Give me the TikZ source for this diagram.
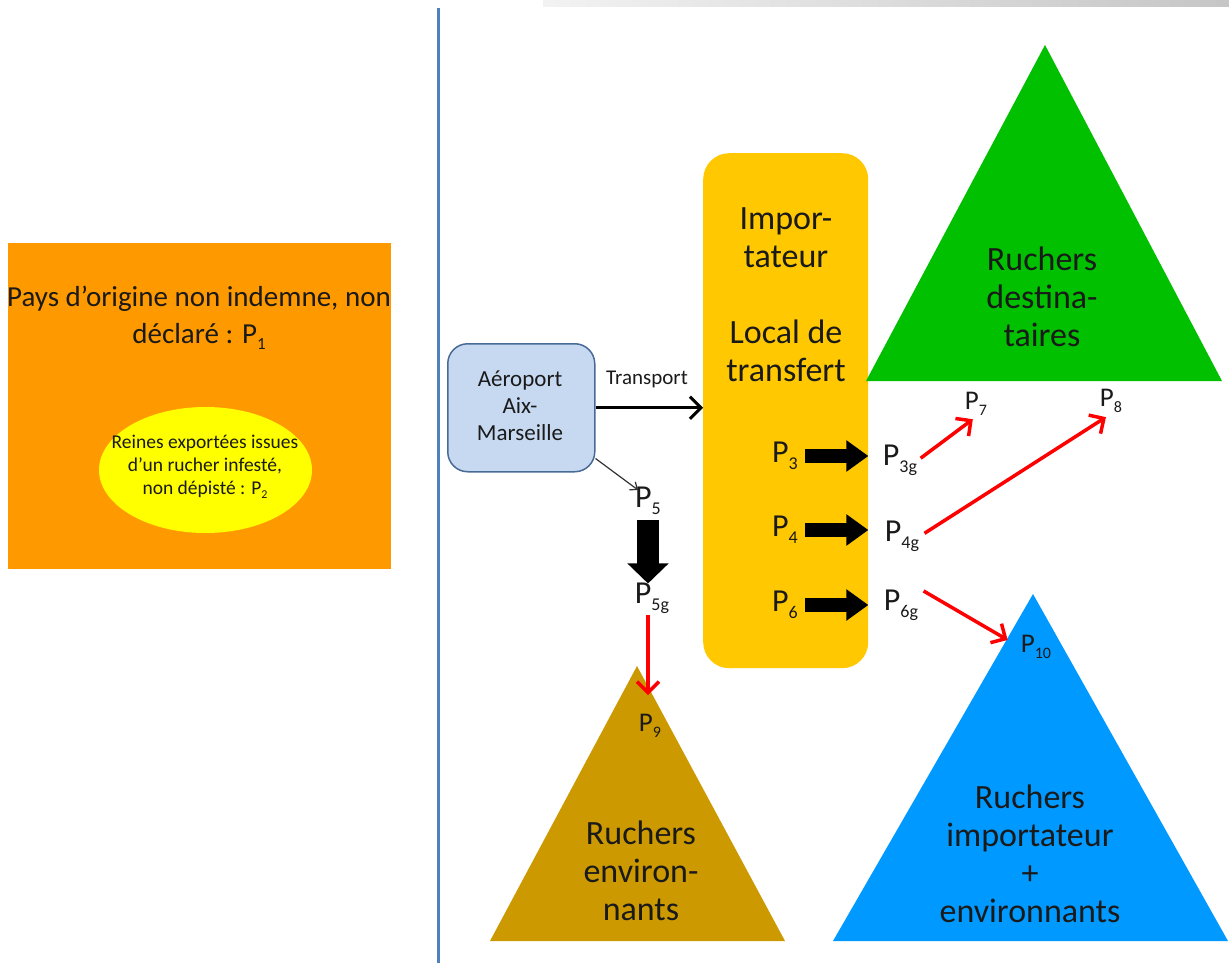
\documentclass[tikz,border=0pt]{standalone}
\usepackage{fontspec}
\setmainfont{Carlito}
\usetikzlibrary{arrows.meta,shapes.geometric}
\definecolor{origorange}{HTML}{FF9900}
\definecolor{ellyellow}{HTML}{FFFF00}
\definecolor{impyellow}{HTML}{FFC800}
\definecolor{airfill}{HTML}{C6D9F1}
\definecolor{airdraw}{HTML}{4A6A96}
\definecolor{sepblue}{HTML}{4F81BD}
\definecolor{destgreen}{HTML}{00C000}
\definecolor{envbrown}{HTML}{CC9900}
\definecolor{impblue}{HTML}{0099FF}
\definecolor{txt}{HTML}{1A1A1A}
\newcommand\psub[2]{\raisebox{-0.22em}{\fontsize{#1}{#1}\selectfont #2}}
\tikzset{
  bigtxt/.style={align=center,inner sep=0pt,text=txt,font=\fontsize{34}{38}\selectfont},
  plab/.style={inner sep=1pt,text=txt,font=\fontsize{32}{34}\selectfont},
  plabs/.style={inner sep=1pt,text=txt,font=\fontsize{27}{30}\selectfont},
  redarrow/.style={draw=red,line width=3.5pt,-{Straight Barb[length=11pt,width=22pt]}},
  blockarrow/.style={draw=black,line width=14pt,-{Triangle[length=22pt,width=30pt]}},
}
\begin{document}
\begin{tikzpicture}[x=1pt,y=-1pt]
\useasboundingbox (0,0) rectangle (1229,963);
% top grey bar
\shade[left color=gray!10,right color=gray!45] (543,0) rectangle (1229,7);
% separator
\draw[sepblue,line width=3pt] (438,8) -- (438,963);
% origin box
\node[fill=origorange,minimum width=383pt,minimum height=326pt,anchor=north west,inner sep=0pt] (orig) at (8,243) {};
\node[align=center,inner sep=0pt,text=txt,font=\fontsize{29}{37}\selectfont] (origtxt) at (199,318) {Pays d’origine non indemne, non\\déclaré : P\psub{17}{1}};
\node[ellipse,fill=ellyellow,minimum width=213pt,minimum height=126pt,inner sep=0pt] (ell) at (205.5,470) {};
\node[align=center,inner sep=0pt,text=txt,font=\fontsize{19.5}{23}\selectfont] (elltxt) at (205,467) {Reines exportées issues\\d’un rucher infesté,\\non dépisté : P\psub{12}{2}};
% airport
\node[draw=airdraw,line width=1.5pt,fill=airfill,rounded corners=20pt,minimum width=147pt,minimum height=128pt,anchor=north west,inner sep=0pt] (air) at (447,343) {};
\node[align=center,inner sep=0pt,text=txt,font=\fontsize{23}{27}\selectfont] (airtxt) at (520,406) {Aéroport\\Aix-\\Marseille};
% importer box
\node[fill=impyellow,rounded corners=26pt,minimum width=165pt,minimum height=515pt,anchor=north west,inner sep=0pt] (imp) at (703,153) {};
\node[bigtxt] (imptxt) at (786,295) {Impor-\\tateur\\[38pt]Local de\\transfert};
% triangles
\fill[destgreen] (1045,45) -- (1222,381) -- (866,381) -- cycle;
\node[bigtxt] (desttxt) at (1042,297) {Ruchers\\destina-\\taires};
\fill[envbrown] (637,666) -- (785,941) -- (490,941) -- cycle;
\node[bigtxt] (envtxt) at (641,871) {Ruchers\\environ-\\nants};
\fill[impblue] (1033,594) -- (1228,941) -- (833,941) -- cycle;
\node[bigtxt] (ibtxt) at (1030,854) {Ruchers\\importateur\\+\\environnants};
% transport
\node[inner sep=0pt,text=txt,font=\fontsize{21}{24}\selectfont] (transport) at (647,379) {Transport};
\draw[line width=3pt,-{Straight Barb[length=11pt,width=22pt]}] (air.east) -- (imp.west |- air.east);
% P labels
\node[plab] (p5) at (648,501) {P\psub{18}{5}};
\node[plab] (p5g) at (652,598) {P\psub{18}{5g}};
\node[plab] (p3) at (785,456) {P\psub{18}{3}};
\node[plab] (p4) at (785,530) {P\psub{18}{4}};
\node[plab] (p6) at (785,605) {P\psub{18}{6}};
\node[plab] (p3g) at (900,460) {P\psub{18}{3g}};
\node[plab] (p4g) at (902,536) {P\psub{18}{4g}};
\node[plab] (p6g) at (901,605) {P\psub{18}{6g}};
\node[plabs] (p7) at (976,404) {P\psub{16}{7}};
\node[plabs] (p8) at (1111,401) {P\psub{16}{8}};
\node[plabs] (p9) at (650,726) {P\psub{16}{9}};
\node[plabs] (p10) at (1036,647) {P\psub{16}{10}};
% thin arrow airport -> P5
\draw[line width=1.2pt,draw=black!80,-{Straight Barb[length=6pt,width=10pt]}] ([yshift=14pt]air.south east) -- ([xshift=4pt,yshift=-4pt]p5.north west);
% block arrows
\draw[blockarrow] ([xshift=6pt]p3.east) -- (imp.east |- p3.east);
\draw[blockarrow] ([xshift=6pt]p4.east) -- (imp.east |- p4.east);
\draw[blockarrow] ([xshift=6pt]p6.east) -- (imp.east |- p6.east);
\draw[draw=black,line width=22pt,-{Triangle[length=20pt,width=40pt]}] ([yshift=-4pt]p5.south -| p5) -- ([yshift=-2pt]p5g.north -| p5);
% red arrows
\draw[redarrow,shorten <=3pt,shorten >=4pt] (p3g.east) -- (p7.south);
\draw[redarrow,shorten <=5pt,shorten >=6pt] (p4g.east) -- (p8.south);
\draw[redarrow,shorten <=5pt,shorten >=14pt] (p6g.north east) -- (p10.west);
\draw[redarrow,shorten <=0pt,shorten >=18pt] (p5g.south -| p5) -- (p9.north -| p5);
\end{tikzpicture}
\end{document}
